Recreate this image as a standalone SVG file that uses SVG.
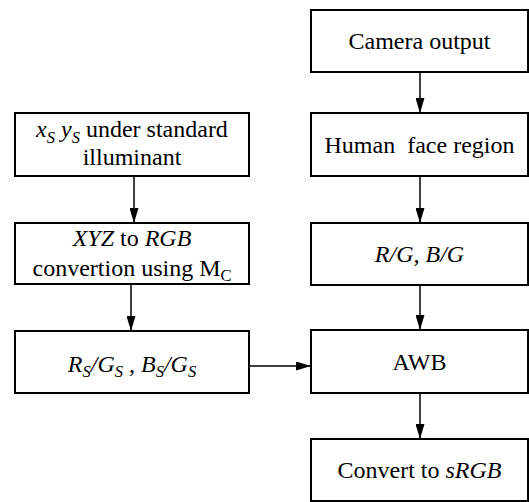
<svg xmlns="http://www.w3.org/2000/svg" width="529" height="502" viewBox="0 0 529 502">
<defs>
<style>
.box{fill:#fff;stroke:#000;stroke-width:2}
.t{font-family:"Liberation Serif","Times New Roman",serif;font-size:24px;fill:#000;text-anchor:middle}
.i{font-style:italic}
.s{font-size:16.5px}
.c line{stroke:#000;stroke-width:1.5;marker-end:url(#ah)}
</style>
<marker id="ah" markerUnits="userSpaceOnUse" markerWidth="15" markerHeight="9" refX="15" refY="4.5" orient="auto">
<path d="M0,0 L15,4.5 L0,9 Z" fill="#000"/>
</marker>
</defs>
<rect width="529" height="502" fill="#fff"/>
<g class="c" id="connectors">
<line x1="420" y1="72" x2="420" y2="113"/>
<line x1="420" y1="176" x2="420" y2="223"/>
<line x1="420" y1="285" x2="420" y2="330"/>
<line x1="420" y1="393" x2="420" y2="439"/>
<line x1="134" y1="176" x2="134" y2="223"/>
<line x1="131" y1="284" x2="131" y2="331"/>
<line x1="248" y1="366" x2="311" y2="366"/>
</g>
<g id="camera">
<rect class="box" x="311" y="10" width="217" height="62"/>
<text class="t" x="419.5" y="49">Camera output</text>
</g>
<g id="face">
<rect class="box" x="311" y="113" width="217" height="63"/>
<text class="t" x="419.5" y="153" xml:space="preserve">Human  face region</text>
</g>
<g id="rg">
<rect class="box" x="311" y="223" width="217" height="62"/>
<text class="t i" x="419.5" y="262">R/G, B/G</text>
</g>
<g id="awb">
<rect class="box" x="311" y="330" width="217" height="63"/>
<text class="t" x="419.5" y="370">AWB</text>
</g>
<g id="srgb">
<rect class="box" x="311" y="439" width="217" height="62"/>
<text class="t" x="419.5" y="478">Convert to <tspan class="i">sRGB</tspan></text>
</g>
<g id="xsys">
<rect class="box" x="15" y="113" width="234" height="63"/>
<text class="t" x="132" y="137"><tspan class="i">x</tspan><tspan class="s i" dy="6">S</tspan><tspan class="i" dy="-6"> y</tspan><tspan class="s i" dy="6">S</tspan><tspan dy="-6"> under standard</tspan></text>
<text class="t" x="132" y="165">illuminant</text>
</g>
<g id="xyz">
<rect class="box" x="15" y="223" width="234" height="61"/>
<text class="t" x="132" y="246"><tspan class="i">XYZ</tspan> to <tspan class="i">RGB</tspan></text>
<text class="t" x="132" y="276">convertion using M<tspan class="s" dy="5">C</tspan></text>
</g>
<g id="rsgs">
<rect class="box" x="15" y="331" width="234" height="62"/>
<text class="t i" x="132" y="372">R<tspan class="s" dy="5">S</tspan><tspan dy="-5">/G</tspan><tspan class="s" dy="5">S</tspan><tspan dy="-5"> , B</tspan><tspan class="s" dy="5">S</tspan><tspan dy="-5">/G</tspan><tspan class="s" dy="5">S</tspan></text>
</g>
</svg>
